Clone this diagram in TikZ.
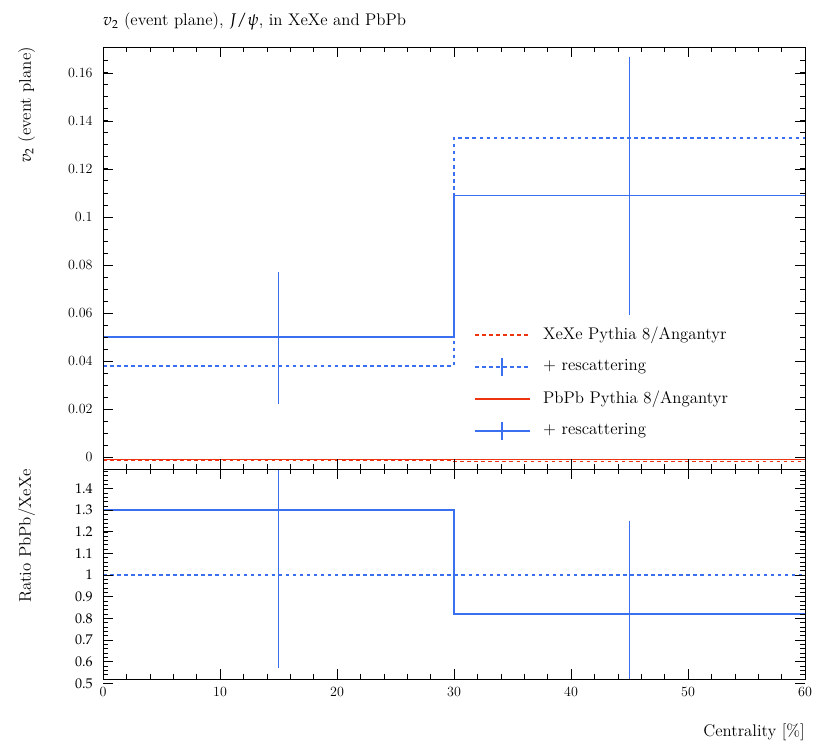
\documentclass[tikz,border=0pt]{standalone}
\usepackage{mathpazo}
\usepackage{tikz}
\definecolor{rivetblue}{HTML}{3A6FF0}
\definecolor{rivetred}{HTML}{EE3311}
\tikzstyle{histo} = [line width=1.2pt]
\tikzstyle{ticklabel} = [font=\large, inner sep=1pt]
\tikzstyle{leg0} = [rivetred, dashed]
\tikzstyle{leg1} = [rivetblue, dashed]
\tikzstyle{leg2} = [rivetred]
\tikzstyle{leg3} = [rivetblue]
\newcommand{\mx}[1]{103+11.7*#1}
\newcommand{\my}[1]{293+2400*#1}
\newcommand{\ry}[1]{175+216.7*(#1-1)}
\begin{document}
\begin{tikzpicture}[x=0.3mm,y=0.3mm]
\useasboundingbox (0,0) rectangle (830,750);
% data, main panel
\draw[histo, rivetred, dashed] ({\mx{0}},{\my{-0.0015}}) -- ({\mx{30}},{\my{-0.0015}}) -- ({\mx{30}},{\my{-0.002}}) -- ({\mx{60}},{\my{-0.002}});
\draw[histo, rivetred] ({\mx{0}},{\my{-0.001}}) -- ({\mx{60}},{\my{-0.001}});
\draw[histo, rivetblue, dashed] ({\mx{0}},{\my{0.038}}) -- ({\mx{30}},{\my{0.038}}) -- ({\mx{30}},{\my{0.133}}) -- ({\mx{60}},{\my{0.133}});
\draw[histo, rivetblue] ({\mx{0}},{\my{0.050}}) -- ({\mx{30}},{\my{0.050}}) -- ({\mx{30}},{\my{0.109}}) -- ({\mx{60}},{\my{0.109}});
\draw[histo, rivetblue] ({\mx{15}},{\my{0.022}}) -- ({\mx{15}},{\my{0.077}});
\draw[histo, rivetblue] ({\mx{45}},{\my{0.059}}) -- ({\mx{45}},{\my{0.1665}});
% data, ratio panel
\draw[histo, rivetblue, dashed] ({\mx{0}},{\ry{1}}) -- ({\mx{60}},{\ry{1}});
\draw[histo, rivetblue] ({\mx{0}},{\ry{1.30}}) -- ({\mx{30}},{\ry{1.30}}) -- ({\mx{30}},{\ry{0.82}}) -- ({\mx{60}},{\ry{0.82}});
\draw[histo, rivetblue] ({\mx{15}},{\ry{0.57}}) -- ({\mx{15}},281);
\draw[histo, rivetblue] ({\mx{45}},71) -- ({\mx{45}},{\ry{1.25}});
% legend
\foreach \row/\txt in {0/{XeXe Pythia 8/Angantyr},
    1/{+ rescattering},
    2/{PbPb Pythia 8/Angantyr},
    3/{+ rescattering}}{
  \draw[histo, leg\row] (475,{415-32*\row}) -- (530,{415-32*\row});
  \node[anchor=west, font=\Large, inner sep=0pt] at (543,{415-32*\row}) {\txt};
}
\draw[histo, rivetblue] (502,{415-32-9}) -- (502,{415-32+9});
\draw[histo, rivetblue] (502,{415-96-9}) -- (502,{415-96+9});
% frames
\fill[white] (805.5,60) rectangle (830,750);
\draw[line width=0.6pt] (103,281) rectangle (805,703);
\draw[line width=0.6pt] (103,71) rectangle (805,281);
% x ticks
\foreach \c in {0,10,...,60}{
  \foreach \yb/\d in {71/1,281/1,281/-1,703/-1}
    \draw ({\mx{\c}},\yb) -- ++(0,{10*\d});
  \node[ticklabel, anchor=north] at ({\mx{\c}},64) {\c};
}
\foreach \c in {2,4,...,58}{
  \foreach \yb/\d in {71/1,281/1,281/-1,703/-1}
    \draw ({\mx{\c}},\yb) -- ++(0,{5*\d});
}
% main y ticks
\foreach \v/\lab in {0/0,0.02/0.02,0.04/0.04,0.06/0.06,0.08/0.08,0.1/0.1,0.12/0.12,0.14/0.14,0.16/0.16}{
  \draw (103,{\my{\v}}) -- ++(10,0);
  \draw (805,{\my{\v}}) -- ++(-10,0);
  \node[ticklabel, anchor=east] at (94,{\my{\v}}) {\lab};
}
\foreach \v in {0,0.005,...,0.17}{
  \draw (103,{\my{\v}}) -- ++(5,0);
  \draw (805,{\my{\v}}) -- ++(-5,0);
}
% ratio y ticks
\foreach \r in {0.5,0.6,...,1.45}{
  \draw (103,{\ry{\r}}) -- ++(10,0);
  \draw (805,{\ry{\r}}) -- ++(-10,0);
  \node[ticklabel, anchor=east] at (94,{\ry{\r}}) {\pgfmathprintnumber{\r}};
}
\foreach \r in {0.52,0.54,...,1.49}{
  \draw (103,{\ry{\r}}) -- ++(5,0);
  \draw (805,{\ry{\r}}) -- ++(-5,0);
}
% labels
\node[anchor=west, font=\Large, inner sep=0pt] (title) at (103,728) {$v_2$ (event plane), $J/\psi$, in XeXe and PbPb};
\node[anchor=east, font=\Large, inner sep=0pt] (xlab) at (805,18) {Centrality [\%]};
\node[anchor=north east, rotate=90, font=\Large, inner sep=0pt] (ylab) at (18,703) {$v_2$ (event plane)};
\node[anchor=north east, rotate=90, font=\Large, inner sep=0pt] (rlab) at (18,281) {Ratio PbPb/XeXe};
\end{tikzpicture}
\end{document}
